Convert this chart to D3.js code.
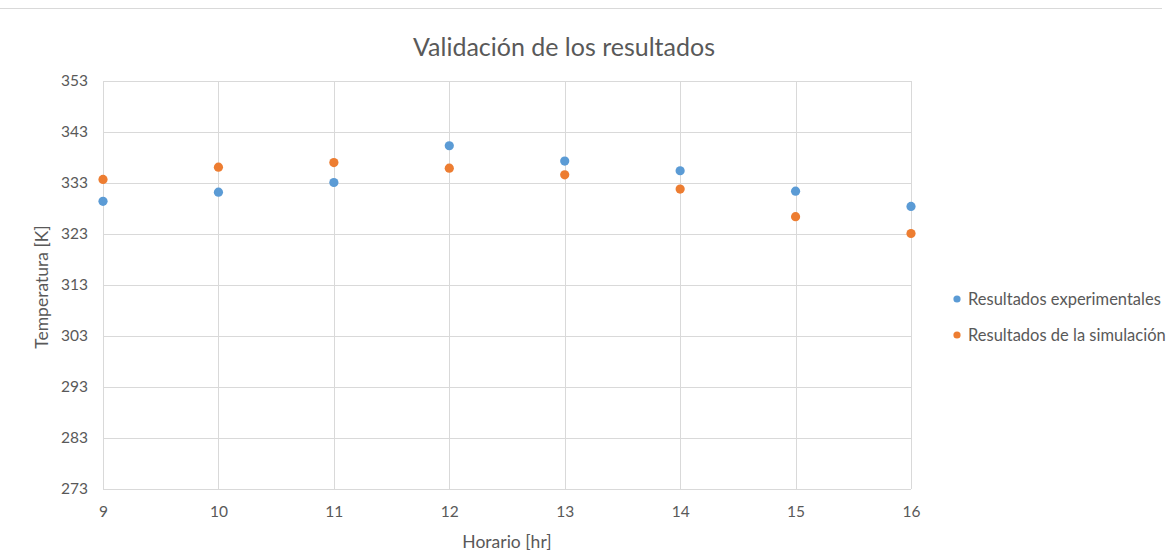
<!DOCTYPE html>
<html>
<head>
<meta charset="utf-8">
<script src="https://cdn.jsdelivr.net/npm/d3@7"></script>
<style>
  html, body { margin: 0; padding: 0; background: #fff; }
  svg { display: block; font-family: Lato, "Open Sans", sans-serif; }
  .axis text { font-family: Lato, "Open Sans", sans-serif; font-size: 15.5px; fill: #595959; }
</style>
</head>
<body>
<svg id="chart" width="1172" height="552"></svg>
<script>
// Hours of the day
const hours = [9, 10, 11, 12, 13, 14, 15, 16];
// Measured temperature [K]
const experimental = [329.4, 331.2, 333.1, 340.3, 337.3, 335.4, 331.4, 328.4];
// Simulated temperature [K]
const simulation = [333.7, 336.1, 337.0, 335.9, 334.6, 331.8, 326.4, 323.1];
const yTicks = [273, 283, 293, 303, 313, 323, 333, 343, 353];
const xTicks = [9, 10, 11, 12, 13, 14, 15, 16];
const seriesNames = ["Resultados experimentales", "Resultados de la simulación"];
const seriesColors = ["#5B9BD5", "#ED7D31"];

const svg = d3.select("#chart");
const plot = { left: 103, right: 911, top: 81, bottom: 489 };

const x = d3.scaleLinear().domain([9, 16]).range([plot.left, plot.right]);
const y = d3.scaleLinear().domain([273, 353]).range([plot.bottom, plot.top]);

// top border line of chart area
svg.append("line").attr("x1", 0).attr("x2", 1162).attr("y1", 8.5).attr("y2", 8.5)
  .attr("stroke", "#D9D9D9").attr("stroke-width", 1);

// gridlines
const grid = svg.append("g");
grid.selectAll("line.h").data(yTicks).join("line").attr("class", "h")
  .attr("x1", plot.left).attr("x2", plot.right)
  .attr("y1", d => Math.round(y(d)) + 0.5).attr("y2", d => Math.round(y(d)) + 0.5)
  .attr("stroke", "#D9D9D9").attr("stroke-width", 1);
grid.selectAll("line.v").data(xTicks).join("line").attr("class", "v")
  .attr("y1", plot.top).attr("y2", plot.bottom)
  .attr("x1", d => Math.round(x(d)) + 0.5).attr("x2", d => Math.round(x(d)) + 0.5)
  .attr("stroke", "#D9D9D9").attr("stroke-width", 1);

// axes
const yAxis = d3.axisLeft(y).tickValues(yTicks).tickSize(0).tickPadding(15);
const gy = svg.append("g").attr("class", "axis").attr("transform", `translate(${plot.left},0)`).call(yAxis);
gy.attr("font-family", null).attr("font-size", null);
gy.select(".domain").remove();

const xAxis = d3.axisBottom(x).tickValues(xTicks).tickFormat(d3.format("d")).tickSize(0).tickPadding(17);
const gx = svg.append("g").attr("class", "axis").attr("transform", `translate(0,${plot.bottom})`).call(xAxis);
gx.attr("font-family", null).attr("font-size", null);
gx.select(".domain").remove();

// title
svg.append("text").attr("x", 564).attr("y", 56).attr("text-anchor", "middle")
  .attr("fill", "#595959").style("font-size", "25px").text("Validación de los resultados");

// axis titles
svg.append("text").attr("x", 507).attr("y", 548).attr("text-anchor", "middle")
  .attr("fill", "#595959").style("font-size", "17.5px").text("Horario [hr]");
svg.append("text").attr("transform", "translate(48,287) rotate(-90)").attr("text-anchor", "middle")
  .attr("fill", "#595959").style("font-size", "17.5px").text("Temperatura [K]");

// points
const series = [experimental, simulation];
series.forEach((vals, i) => {
  svg.append("g").selectAll("circle").data(hours.map((h, j) => [h, vals[j]])).join("circle")
    .attr("cx", d => x(d[0])).attr("cy", d => y(d[1])).attr("r", 4.6)
    .attr("fill", seriesColors[i]);
});

// legend
const legend = svg.append("g");
seriesNames.forEach((name, i) => {
  const ly = 299 + i * 36;
  legend.append("circle").attr("cx", 957).attr("cy", ly).attr("r", 3.6).attr("fill", seriesColors[i]);
  legend.append("text").attr("x", 968).attr("y", ly + 5.5).attr("fill", "#595959")
    .style("font-size", "16.5px").text(name);
});
</script>
</body>
</html>
